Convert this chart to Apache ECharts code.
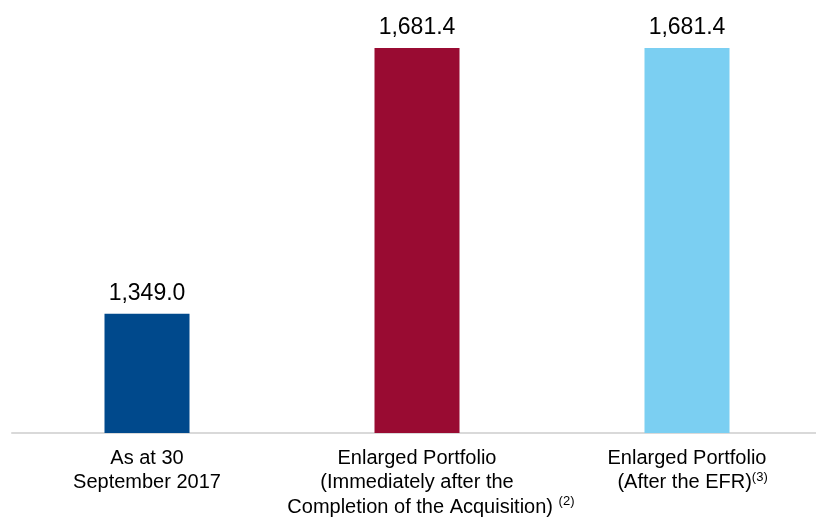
<!DOCTYPE html>
<html>
<head>
<meta charset="utf-8">
<script src="https://cdn.jsdelivr.net/npm/echarts@6/dist/echarts.min.js"></script>
<style>
  html, body { margin: 0; padding: 0; background: #ffffff; }
  #chart { width: 816px; height: 517px; }
</style>
</head>
<body>
<div id="chart"></div>
<script>
// Portfolio values by stage
const categories = [
  'As at 30\nSeptember 2017',
  'Enlarged Portfolio\n(Immediately after the\n     Completion of the Acquisition) {sup|(2)}',
  'Enlarged Portfolio\n  (After the EFR){sup|(3)}'
];
const values = [1349.0, 1681.4, 1681.4];
const barColors = ['#00498C', '#990B32', '#7BCFF2'];

const FONT = 'Liberation Sans, Arial, sans-serif';
const chart = echarts.init(document.getElementById('chart'), null, { renderer: 'canvas' });

chart.setOption({
  animation: false,
  backgroundColor: '#ffffff',
  grid: { left: 12, right: -6, top: 1, bottom: 84, containLabel: false, outerBoundsMode: 'none' },
  xAxis: {
    type: 'category',
    data: categories,
    axisLine: { show: true, lineStyle: { color: '#d9d9d9', width: 2 } },
    axisTick: { show: false },
    axisLabel: {
      interval: 0,
      margin: 13,
      color: '#000000',
      fontFamily: FONT,
      fontSize: 20,
      lineHeight: 24.5,
      align: 'center',
      rich: {
        sup: {
          fontSize: 13,
          fontFamily: FONT,
          color: '#000000',
          verticalAlign: 'top',
          lineHeight: 24.5,
          padding: [0, 0, 9, 0]
        }
      }
    }
  },
  yAxis: {
    type: 'value',
    min: 1200,
    max: 1740,
    show: false,
    splitLine: { show: false }
  },
  series: [{
    type: 'bar',
    barWidth: 85,
    data: values.map((v, i) => ({ value: v, itemStyle: { color: barColors[i] } })),
    label: {
      show: true,
      position: 'top',
      distance: 9,
      color: '#000000',
      fontFamily: FONT,
      fontSize: 23,
      formatter: p => p.value.toLocaleString('en-US', { minimumFractionDigits: 1, maximumFractionDigits: 1 })
    }
  }]
});
</script>
</body>
</html>
